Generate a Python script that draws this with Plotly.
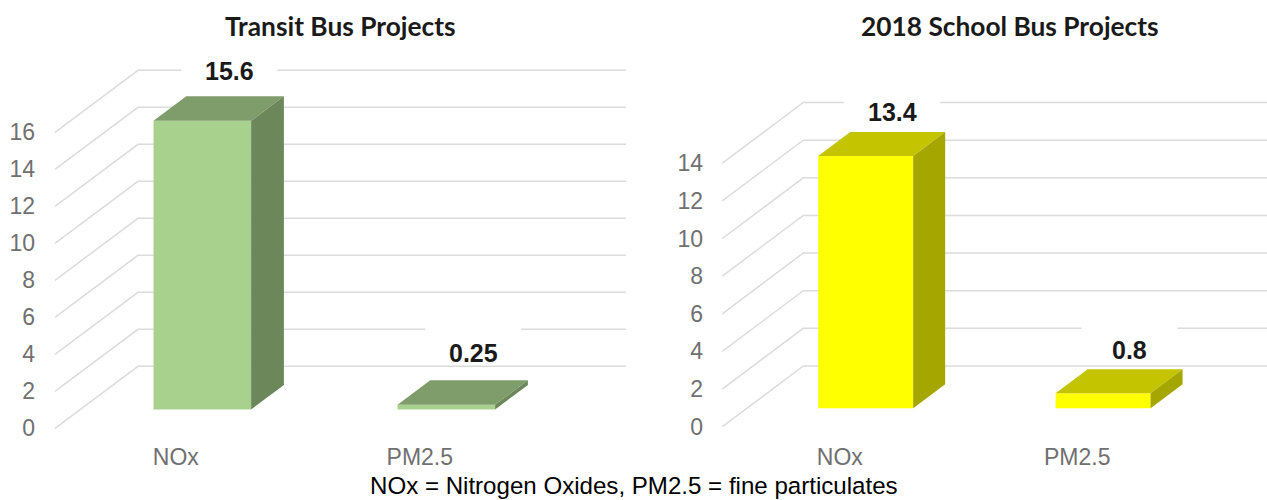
import plotly.graph_objects as go

# ---- data ----
categories = ["NOx", "PM2.5"]
transit_values = [15.6, 0.25]
school_values = [13.4, 0.8]
transit_ticks = [0, 2, 4, 6, 8, 10, 12, 14, 16]
school_ticks = [0, 2, 4, 6, 8, 10, 12, 14]
transit_title = "Transit Bus Projects"
school_title = "2018 School Bus Projects"
footnote = "NOx = Nitrogen Oxides, PM2.5 = fine particulates"

# ---- oblique projection and layout ----
W, H = 1267, 500
D_FRONT, D_BACK, D_LABEL = 0.305, 0.70, 0.63
BAR_WIDTH = 0.4
GRID = "#dcdcdc"
TICK_COLOR = "#707070"
SANS = "Liberation Sans"

panels = [
    dict(values=transit_values, ticks=transit_ticks, title=transit_title, title_x=340,
         x0=177, y0=428.3, sx=244, sy=18.5, depth_x=83, depth_y=62,
         dom=(36, 640), lift=[25, 27.5],
         front="#A9D18E", top="#7F9D6B", side="#6C8759"),
    dict(values=school_values, ticks=school_ticks, title=school_title, title_x=1010,
         x0=841, y0=426.7, sx=237.4, sy=18.82, depth_x=81, depth_y=60.7,
         dom=(704, 1267), lift=[20, 19],
         front="#FFFF00", top="#C4C400", side="#A6A600"),
]
PLOT_TOP, PLOT_BOTTOM = 45, 441

fig = go.Figure()
shapes, annotations = [], []
layout_axes = {}

for i, p in enumerate(panels):
    sfx = "" if i == 0 else str(i + 1)
    xa, ya = f"x{sfx}", f"y{sfx}"
    dcx = p["depth_x"] / p["sx"]   # depth vector expressed in axis units
    dcy = p["depth_y"] / p["sy"]
    half = BAR_WIDTH / 2

    # floor + back-wall gridlines (side wall, then back wall)
    left, right = -0.5, 1.5
    for t in p["ticks"]:
        path = (f"M {left} {t} L {left + dcx} {t + dcy} L {right + dcx} {t + dcy}")
        shapes.append(dict(type="path", path=path, xref=xa, yref=ya, layer="below",
                           line=dict(color=GRID, width=1.5)))

    for c, v in enumerate(p["values"]):
        cx = c + dcx * D_FRONT
        by = dcy * D_FRONT
        ddx = dcx * (D_BACK - D_FRONT)
        ddy = dcy * (D_BACK - D_FRONT)
        # front face: a true bar
        fig.add_trace(go.Bar(x=[cx], y=[v], base=[by], width=[BAR_WIDTH], xaxis=xa, yaxis=ya,
                             marker=dict(color=p["front"], line=dict(width=0)),
                             name=categories[c], showlegend=False))
        # top face
        fig.add_trace(go.Scatter(
            x=[cx - half, cx + half, cx + half + ddx, cx - half + ddx, cx - half],
            y=[by + v, by + v, by + v + ddy, by + v + ddy, by + v],
            xaxis=xa, yaxis=ya, mode="none", fill="toself", fillcolor=p["top"],
            showlegend=False, hoverinfo="skip"))
        # side face
        fig.add_trace(go.Scatter(
            x=[cx + half, cx + half + ddx, cx + half + ddx, cx + half, cx + half],
            y=[by, by + ddy, by + v + ddy, by + v, by],
            xaxis=xa, yaxis=ya, mode="none", fill="toself", fillcolor=p["side"],
            showlegend=False, hoverinfo="skip"))

        # data label and the white plate behind it
        lx = c + dcx * D_LABEL
        ly = v + dcy * D_BACK
        lift = p["lift"][c]
        shapes.append(dict(type="rect", xref=xa, yref=ya, layer="below",
                           x0=lx - 48 / p["sx"], x1=lx + 48 / p["sx"],
                           y0=ly + (lift - 12) / p["sy"], y1=ly + (lift + 28) / p["sy"],
                           fillcolor="white", line=dict(width=0)))
        annotations.append(dict(text=f"<b>{v:g}</b>", x=lx, y=ly, xref=xa, yref=ya,
                                yshift=lift, showarrow=False, xanchor="center", yanchor="middle",
                                font=dict(family=SANS, size=25, color="#1a1a1a")))

    annotations.append(dict(text=f"<b>{p['title']}</b>", x=p["title_x"] / W, y=1 - 26 / H,
                            xref="paper", yref="paper", showarrow=False,
                            xanchor="center", yanchor="middle",
                            font=dict(family="Lato", size=26.3, color="#1a1a1a")))

    d0, d1 = p["dom"]
    layout_axes["xaxis" + sfx] = dict(
        domain=[d0 / W, d1 / W], anchor=ya,
        range=[(d0 - p["x0"]) / p["sx"], (d1 - p["x0"]) / p["sx"]],
        tickmode="array", tickvals=[-0.005, 0.995], ticktext=categories,
        tickfont=dict(family=SANS, size=23, color=TICK_COLOR),
        showgrid=False, zeroline=False, showline=False, ticks="")
    layout_axes["yaxis" + sfx] = dict(
        domain=[1 - PLOT_BOTTOM / H, 1 - PLOT_TOP / H], anchor=xa,
        range=[(p["y0"] - PLOT_BOTTOM) / p["sy"], (p["y0"] - PLOT_TOP) / p["sy"]],
        tickmode="array", tickvals=p["ticks"],
        tickfont=dict(family=SANS, size=23, color=TICK_COLOR),
        showgrid=False, zeroline=False, showline=False, ticks="")

annotations.append(dict(text=footnote, x=634 / W, y=0, xref="paper", yref="paper",
                        showarrow=False, xanchor="center", yanchor="bottom", borderpad=0,
                        font=dict(family=SANS, size=24.1, color="#000000")))

fig.update_layout(width=W, height=H, autosize=False, margin=dict(l=0, r=0, t=0, b=0, pad=0),
                  paper_bgcolor="white", plot_bgcolor="rgba(0,0,0,0)", showlegend=False,
                  shapes=shapes, annotations=annotations, **layout_axes)

fig.write_html("out.html", config={"displayModeBar": False},
               post_script="document.body.style.margin='0';document.body.style.overflow='hidden';")
